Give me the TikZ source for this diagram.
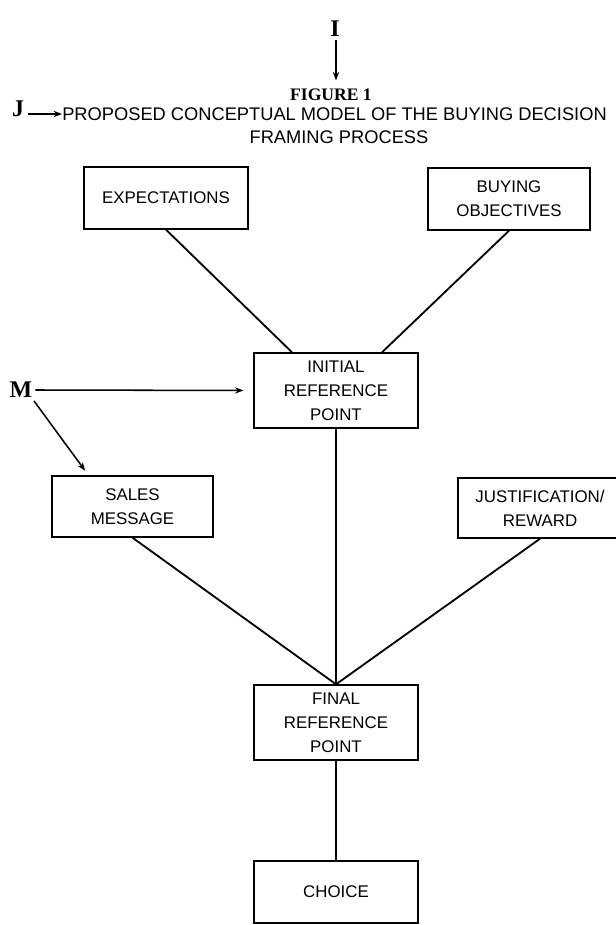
\documentclass[tikz,border=0pt]{standalone}
\usepackage{fontspec}
\setmainfont{Liberation Serif}
\newfontfamily\boxfont{Liberation Sans}
\usetikzlibrary{arrows.meta, positioning}

\begin{document}
\begin{tikzpicture}[
    x=0.025cm, y=-0.025cm,
    framebox/.style={draw=black, line width=1pt, align=center, font=\boxfont\fontsize{12}{17}\selectfont, inner sep=0pt, minimum width=4.1cm},
    link/.style={line width=1.3pt, draw=black},
    arrow/.style={line width=1.1pt, -{Stealth[length=6pt, width=4.5pt]}, draw=black},
    tag/.style={font=\bfseries\fontsize{17}{17}\selectfont, inner sep=0pt}
]
    \useasboundingbox (0,0) rectangle (616,925);

    % header
    \node[tag] (labI) at (335,29) {I};
    \node[font=\bfseries\fontsize{12.5}{12.5}\selectfont, inner sep=0pt] (fig) at (331,95) {FIGURE 1};
    \node[tag] (labJ) at (18,109) {J};
    \node[anchor=west, inner sep=0pt, font=\boxfont\fontsize{13}{13}\selectfont] (title) at (62,114) {PROPOSED CONCEPTUAL MODEL OF THE BUYING DECISION};
    \node[inner sep=0pt, font=\boxfont\fontsize{13}{13}\selectfont] (title2) at (339,137) {FRAMING PROCESS};

    \coordinate (iTop) at (336,40);
    \coordinate (jStart) at (28,114);
    \draw[arrow, shorten >=6pt] (iTop) -- (iTop |- fig.north);
    \draw[arrow] (jStart) -- (title.west);

    % boxes
    \node[framebox, minimum height=1.55cm] (expect) at (166,198) {EXPECTATIONS};
    \node[framebox, minimum height=1.55cm, minimum width=4.05cm] (buyobj) at (509,199) {BUYING\\OBJECTIVES};
    \node[framebox, minimum height=1.875cm] (initref) at (336,390.5) {INITIAL\\REFERENCE\\POINT};
    \node[framebox, minimum height=1.525cm, minimum width=4.03cm] (sales) at (132.5,506.5) {SALES\\MESSAGE};
    \node[framebox, minimum height=1.5cm] (justif) at (540,508) {JUSTIFICATION/\\REWARD};
    \node[framebox, minimum height=1.875cm] (finalref) at (336,722.5) {FINAL\\REFERENCE\\POINT};
    \node[framebox, minimum height=1.55cm] (choice) at (336,892) {CHOICE};

    \node[tag] (labM) at (21,390) {M};

    % connectors
    \draw[link] (expect.south) -- ([xshift=-1.1cm]initref.north);
    \draw[link] (buyobj.south) -- ([xshift=1.15cm]initref.north);
    \draw[link] (initref.south) -- (finalref.north);
    \draw[link] (sales.south) -- (finalref.north);
    \draw[link] (justif.south) -- (finalref.north);
    \draw[link] (finalref.south) -- (choice.north);

    \draw[arrow, shorten >=7pt] ([xshift=2pt]labM.east) -- (initref.west);
    \draw[arrow, shorten >=4pt] ([xshift=1pt, yshift=-2pt]labM.south east) -- ([xshift=-1.1cm]sales.north);
\end{tikzpicture}
\end{document}
